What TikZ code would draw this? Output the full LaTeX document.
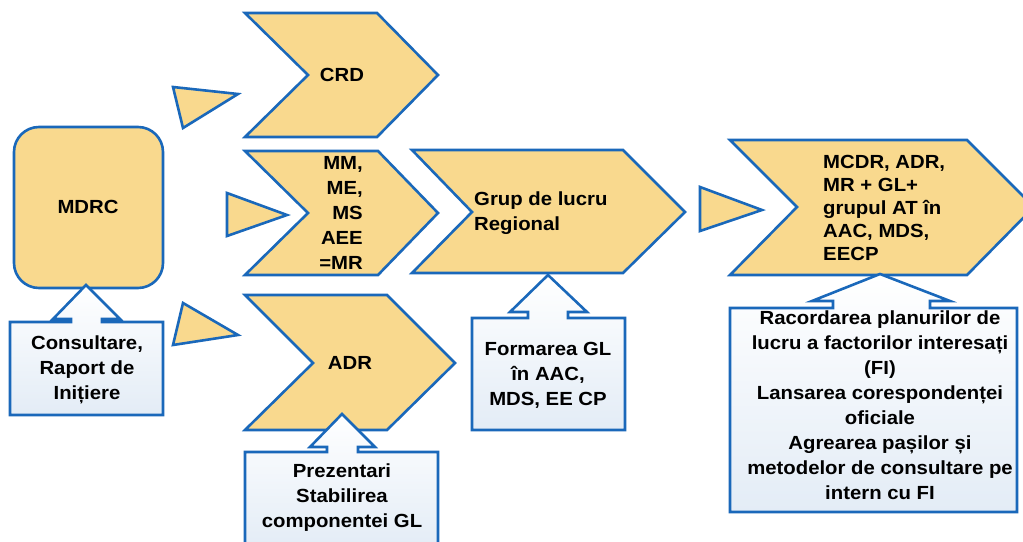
\documentclass[tikz,border=0pt]{standalone}
\usepackage{fontspec}
\setmainfont{Liberation Sans}[FakeStretch=1.07]
\definecolor{gold}{HTML}{F9D98E}
\definecolor{bl}{HTML}{1A68BA}
\definecolor{callfill}{HTML}{E3ECF6}
\begin{document}
\begin{tikzpicture}[x=1pt,y=-1pt,
  chev/.style={draw=bl,line width=2.6pt,fill=gold,line join=miter},
  tri/.style={draw=bl,line width=2.6pt,fill=gold,line join=miter},
  call/.style={draw=bl,line width=2.6pt,top color=white,bottom color=callfill,line join=miter},
  lbl/.style={font=\fontsize{19}{25}\selectfont\bfseries,inner sep=0pt,align=center},
  lblt/.style={font=\fontsize{19}{23}\selectfont\bfseries,inner sep=0pt}
]
\useasboundingbox (0,0) rectangle (1023,541);
\fill[white] (0,0) rectangle (1023,541);

% chevrons
\draw[chev] (245,13) -- (377,13) -- (438,75) -- (377,137) -- (245,137) -- (308,75) -- cycle;
\draw[chev] (245,151) -- (378,151) -- (438,213) -- (378,275) -- (245,275) -- (308,213) -- cycle;
\draw[chev] (412,150) -- (623,150) -- (685,212) -- (623,273) -- (412,273) -- (472,212) -- cycle;
\draw[chev] (245,295) -- (387,295) -- (455,363) -- (387,430) -- (245,430) -- (313,363) -- cycle;
\draw[chev] (730,140) -- (967,140) -- (1034,207) -- (967,275) -- (730,275) -- (797,207) -- cycle;

% MDRC box
\draw[chev,rounded corners=25pt] (14,127) rectangle (163,288);

% small triangles
\draw[tri] (173,87) -- (238,94) -- (183,128) -- cycle;
\draw[tri] (227,193) -- (287,215) -- (227,236) -- cycle;
\draw[tri] (183,303) -- (238,335) -- (173,345) -- cycle;
\draw[tri] (700,187) -- (762,210) -- (700,231) -- cycle;

% callouts
\draw[call] (10,322) -- (71,322) -- (71,319) -- (53,319) -- (86,285) -- (120,319) -- (102,319) -- (102,322) -- (163,322) -- (163,415) -- (10,415) -- cycle;
\draw[call] (245,452) -- (327,452) -- (327,447) -- (310,447) -- (342,414) -- (375,447) -- (358,447) -- (358,452) -- (438,452) -- (438,548) -- (245,548) -- cycle;
\draw[call] (472,318) -- (528,318) -- (528,312) -- (510,312) -- (548,275) -- (587,312) -- (568,312) -- (568,318) -- (625,318) -- (625,430) -- (472,430) -- cycle;
\draw[call] (730,308) -- (833,308) -- (833,301) -- (812,301) -- (880,274) -- (950,301) -- (930,301) -- (930,308) -- (1017,308) -- (1017,512) -- (730,512) -- cycle;

% texts
\node[lbl] (crd) at (342,75) {CRD};
\node[lbl,align=right,anchor=east] (mm) at (363,213) {MM,\\ME,\\MS\\AEE\\=MR};
\node[lbl] (mdrc) at (88,207) {MDRC};
\node[lbl,align=left,anchor=west] (grl) at (474,213) {Grup de lucru\\Regional};
\node[lbl] (adr) at (350,363) {ADR};
\node[lblt,align=left,anchor=west] (mcdr) at (823,208) {MCDR, ADR,\\MR + GL+\\grupul AT în\\AAC, MDS,\\EECP};
\node[lbl] (cons) at (87,370) {Consultare,\\Raport de\\Inițiere};
\node[lbl] (prez) at (342,498) {Prezentari\\Stabilirea\\componentei GL};
\node[lbl] (form) at (548,375) {Formarea GL\\în AAC,\\MDS, EE CP};
\node[lbl] (rac) at (880,405) {Racordarea planurilor de\\lucru a factorilor interesați\\(FI)\\Lansarea corespondenței\\oficiale\\Agrearea pașilor și\\metodelor de consultare pe\\intern cu FI};
\end{tikzpicture}
\end{document}
